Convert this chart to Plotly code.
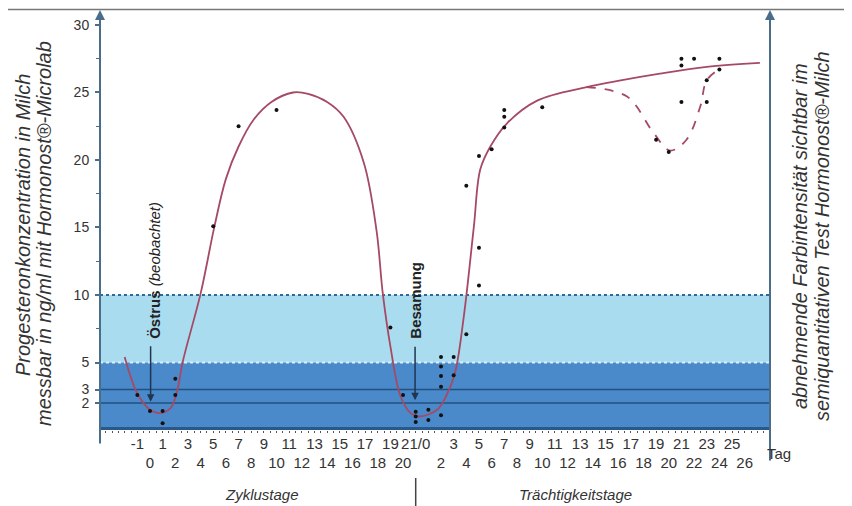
import plotly.graph_objects as go

# ---------------- data ----------------
# continuous day index: cycle day (Zyklustag); pregnancy day = tag - 21
zyklus_oben = [-1, 1, 3, 5, 7, 9, 11, 13, 15, 17, 19]
zyklus_unten = [0, 2, 4, 6, 8, 10, 12, 14, 16, 18, 20]
besamung_tag = 21  # "21/0"
traechtig_oben = [3, 5, 7, 9, 11, 13, 15, 17, 19, 21, 23, 25]
traechtig_unten = [2, 4, 6, 8, 10, 12, 14, 16, 18, 20, 22, 24, 26]

y_ticks = [2, 3, 5, 10, 15, 20, 25, 30]

kurve_tag = [-2, -1, 0, 0.7, 1.6, 2.1, 2.6, 4.0, 5.1, 6.0, 7.0, 8.2, 9.6, 11.3,
             12.5, 14.0, 15.3, 16.9, 17.9, 18.4, 19.0, 19.8, 20.6, 21.3, 22.7,
             23.4, 24.1, 24.8, 25.6, 26.1, 26.9, 28.2, 30.6, 34.5, 37.2, 40.3,
             44.0, 48.2]
kurve_wert = [5.4, 2.7, 1.5, 1.25, 1.6, 2.7, 5.1, 10.1, 15.1, 18.6, 21.0, 23.0,
              24.3, 25.0, 24.9, 24.3, 23.2, 19.8, 14.8, 10.1, 6.2, 2.5, 1.25,
              1.0, 1.5, 2.5, 4.2, 8.4, 15.1, 19.3, 21.0, 22.7, 24.4, 25.4, 25.9,
              26.4, 26.9, 27.2]

gestrichelt_tag = [34.5, 37.7, 39.8, 41.1, 42.4, 43.5, 44.0, 45.1]
gestrichelt_wert = [25.4, 24.7, 22.0, 20.7, 21.5, 24.0, 25.9, 26.8]

punkte_tag = [-1, 0, 1, 1, 2, 2, 5, 7, 10, 19, 20, 21, 21, 21, 22, 22, 23, 23,
              23, 23, 23, 24, 24, 25, 26, 26, 25, 26, 27, 28, 28, 28, 31, 40,
              41, 42, 43, 45, 42, 42, 44, 44, 45]
punkte_wert = [2.6, 1.4, 1.4, 0.5, 2.6, 3.8, 15.1, 22.5, 23.7, 7.6, 2.6, 1.36,
               1.0, 0.6, 1.5, 0.74, 5.4, 4.7, 4.0, 3.2, 1.1, 5.4, 4.05, 7.1,
               10.7, 13.5, 18.1, 20.3, 20.8, 22.4, 23.2, 23.7, 23.9, 21.5, 20.6,
               27.5, 27.5, 27.5, 27.0, 24.3, 24.3, 25.9, 26.7]

# ---------------- styling ----------------
SANS = "Liberation Sans, Arial, sans-serif"
TXT = "#333333"
AXC = "#4a6d8c"
CURVE = "#a54a64"

X_RANGE = [-3.95, 49.0]
Y_RANGE = [0, 31.11]

top_vals = zyklus_oben + [besamung_tag] + [besamung_tag + p for p in traechtig_oben]
top_text = [str(v) for v in zyklus_oben] + ["21/0"] + [str(p) for p in traechtig_oben]
bot_vals = zyklus_unten + [besamung_tag + p for p in traechtig_unten]
bot_text = [str(v) for v in zyklus_unten] + [str(p) for p in traechtig_unten]


def px(x):  # page x pixel -> paper x
    return (x - 100) / 670


def py(y):  # page y pixel -> paper y
    return (430 - y) / 420


def label(x, y, text, size, angle=0, family=SANS, color=TXT, ref="paper"):
    return dict(xref=ref, yref=ref, x=x, y=y, text=text, textangle=angle,
                showarrow=False, xanchor="center", yanchor="middle",
                font=dict(family=family, size=size, color=color))


fig = go.Figure()

fig.add_trace(go.Scatter(x=kurve_tag, y=kurve_wert, mode="lines",
                         line=dict(color=CURVE, width=1.8, shape="spline", smoothing=1.0),
                         hoverinfo="skip", showlegend=False))
fig.add_trace(go.Scatter(x=gestrichelt_tag, y=gestrichelt_wert, mode="lines",
                         line=dict(color=CURVE, width=1.8, dash="dash", shape="spline", smoothing=1.0),
                         hoverinfo="skip", showlegend=False))
fig.add_trace(go.Scatter(x=punkte_tag, y=punkte_wert, mode="markers",
                         marker=dict(color="#111111", size=4),
                         hoverinfo="skip", showlegend=False))
# invisible trace so the second label row axis is rendered
fig.add_trace(go.Scatter(x=[0], y=[-10], mode="markers", marker=dict(opacity=0),
                         xaxis="x2", hoverinfo="skip", showlegend=False))

shapes = [
    dict(type="rect", xref="paper", yref="y", x0=0, x1=1, y0=5, y1=10,
         fillcolor="#aadcf0", line=dict(width=0), layer="below"),
    dict(type="rect", xref="paper", yref="y", x0=0, x1=1, y0=0, y1=5,
         fillcolor="#4a8acb", line=dict(width=0), layer="below"),
    dict(type="line", xref="paper", yref="y", x0=0, x1=1, y0=3, y1=3,
         line=dict(color="#23507e", width=1.5), layer="below"),
    dict(type="line", xref="paper", yref="y", x0=0, x1=1, y0=2, y1=2,
         line=dict(color="#23507e", width=1.5), layer="below"),
    dict(type="line", xref="paper", yref="y", x0=0, x1=1, y0=10, y1=10,
         line=dict(color="#2d6a97", width=2, dash="dot"), layer="below"),
    dict(type="line", xref="paper", yref="y", x0=0, x1=1, y0=5, y1=5,
         line=dict(color="#dceefa", width=2, dash="dot"), layer="below"),
    dict(type="line", xref="paper", yref="y", x0=0, x1=1, y0=0.12, y1=0.12,
         line=dict(color="#2a5888", width=3), layer="below"),
    # top border of the page
    dict(type="line", xref="paper", yref="paper", x0=px(8), x1=px(852), y0=py(9.5), y1=py(9.5),
         line=dict(color="#777777", width=1.5)),
    # separator between Zyklustage / Trächtigkeitstage
    dict(type="line", xref="x", yref="paper", x0=besamung_tag, x1=besamung_tag,
         y0=py(478), y1=py(506), line=dict(color="#444444", width=1.5)),
]

annotations = [
    # axis arrows
    dict(xref="paper", yref="paper", x=0, y=1, ax=0, ay=435, axref="pixel", ayref="pixel",
         text="", showarrow=True, arrowhead=2, arrowsize=1, arrowwidth=2, arrowcolor=AXC, standoff=0),
    dict(xref="paper", yref="paper", x=1, y=1, ax=0, ay=452, axref="pixel", ayref="pixel",
         text="", showarrow=True, arrowhead=2, arrowsize=1, arrowwidth=2, arrowcolor=AXC, standoff=0),
    # event arrows
    dict(xref="x", yref="y", x=0.05, y=2.1, ax=0, ay=-57, text="", showarrow=True,
         arrowhead=2, arrowsize=1, arrowwidth=1.5, arrowcolor="#1f3550", standoff=0),
    dict(xref="x", yref="y", x=besamung_tag - 0.05, y=2.2, ax=0, ay=-55, text="", showarrow=True,
         arrowhead=2, arrowsize=1, arrowwidth=1.5, arrowcolor="#1f3550", standoff=0),
    # event labels
    label(0.3, 11.85, "<b>Östrus</b> <i>(beobachtet)</i>", 15, angle=-90, color="#222222", ref="data"),
    label(besamung_tag, 9.63, "<b>Besamung</b>", 15, angle=-90, color="#222222", ref="data"),
    # axis titles
    label(px(23), py(225), "<i>Progesteronkonzentration in Milch</i>", 20, angle=-90),
    label(px(44), py(234), "<i>messbar in ng/ml mit Hormonost®-Microlab</i>", 20, angle=-90),
    label(px(800), py(236), "<i>abnehmende Farbintensität sichtbar im</i>", 20, angle=-90),
    label(px(822), py(236), "<i>semiquantitativen Test Hormonost®-Milch</i>", 20, angle=-90),
    label(px(779), py(453), "Tag", 15),
    label(px(262), py(495), "<i>Zyklustage</i>", 15),
    label(px(575), py(495), "<i>Trächtigkeitstage</i>", 15),
]
for a in annotations:
    if a.get("xref") == "data":
        a["xref"], a["yref"] = "x", "y"

# the page body has an 8px margin, so the figure is 844x498 and starts at (8, 8)
fig.update_layout(
    width=844, height=498,
    margin=dict(l=92, r=82, t=2, b=76),
    paper_bgcolor="#ffffff", plot_bgcolor="#ffffff",
    shapes=shapes, annotations=annotations,
    xaxis=dict(range=X_RANGE, tickmode="array", tickvals=top_vals, ticktext=top_text,
               ticks="", showgrid=False, zeroline=False, showline=False,
               automargin=False, tickangle=0,
               ticklabelstandoff=3,
               tickfont=dict(family=SANS, size=15, color=TXT),
               minor=dict(ticks="outside", tickmode="linear", tick0=0, dtick=0.5,
                          ticklen=2, tickcolor="#555555", tickwidth=1)),
    xaxis2=dict(range=X_RANGE, overlaying="x", anchor="y", side="bottom",
                tickmode="array", tickvals=bot_vals, ticktext=bot_text,
                ticks="", showgrid=False, zeroline=False, showline=False,
                automargin=False, tickangle=0,
                ticklabelstandoff=22,
                tickfont=dict(family=SANS, size=15, color=TXT)),
    yaxis=dict(range=Y_RANGE, tickmode="array", tickvals=y_ticks,
               ticktext=[str(v) for v in y_ticks],
               ticks="outside", ticklen=4, tickcolor=AXC, tickwidth=1.5,
               showgrid=False, zeroline=False, showline=False,
               automargin=False, ticklabelstandoff=3,
               tickfont=dict(family=SANS, size=14, color=TXT),
               minor=dict(ticks="outside", tickmode="array",
                          tickvals=[7.5, 12.5, 17.5, 22.5, 27.5],
                          ticklen=3, tickcolor=AXC, tickwidth=1)),
)

fig.write_html("out.html")
